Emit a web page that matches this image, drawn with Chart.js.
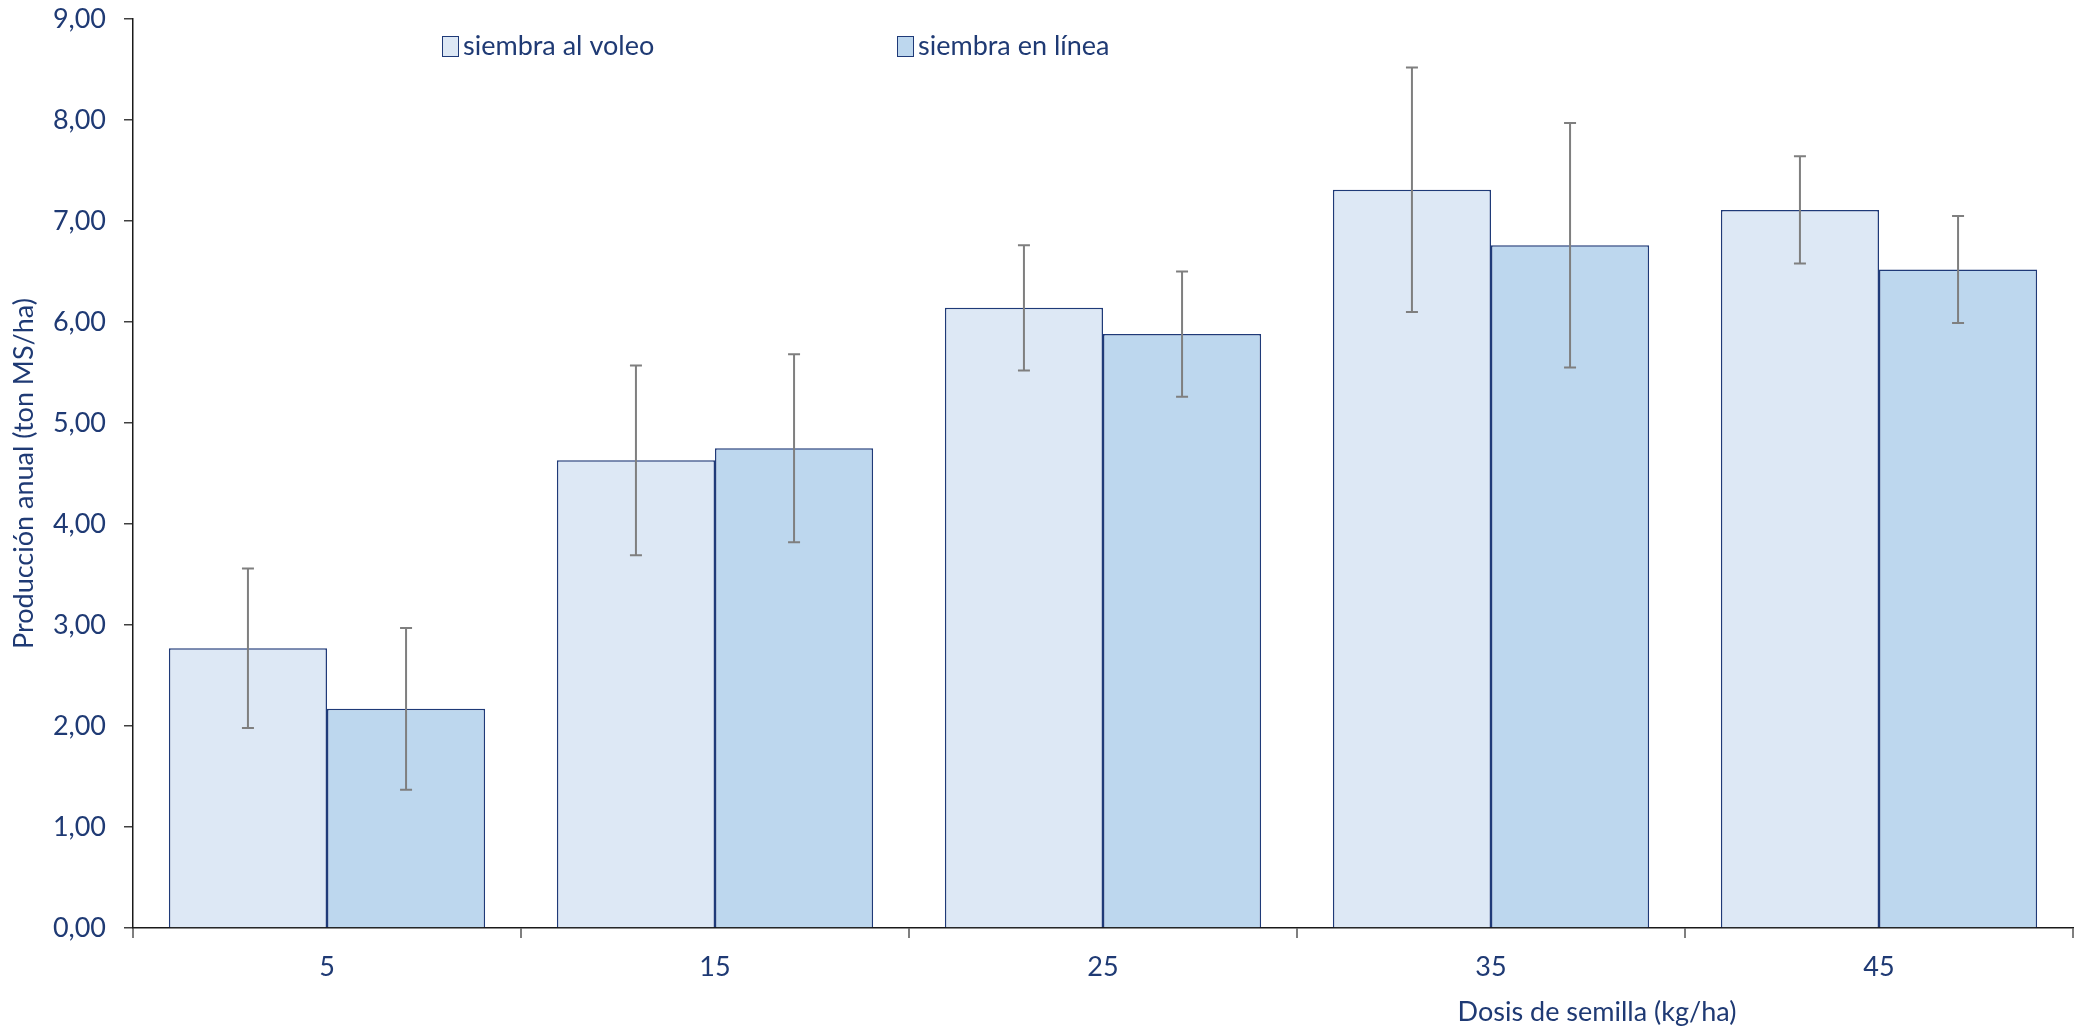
<!DOCTYPE html>
<html>
<head>
<meta charset="utf-8">
<script src="https://cdn.jsdelivr.net/npm/chart.js"></script>
<style>
  html, body { margin: 0; padding: 0; background: #fff; }
  #wrap { width: 2074px; height: 1028px; position: relative; }
</style>
</head>
<body>
<div id="wrap"><canvas id="chart" width="2074" height="1028"></canvas></div>
<script>
// data
const categories = ['5', '15', '25', '35', '45'];
const voleo = [2.77, 4.63, 6.14, 7.31, 7.11];
const linea = [2.17, 4.75, 5.88, 6.76, 6.52];
const errVoleo = [0.79, 0.94, 0.62, 1.21, 0.53];
const errLinea = [0.80, 0.93, 0.62, 1.21, 0.53];
const seriesNames = ['siembra al voleo', 'siembra en línea'];
const yTicks = [0, 1, 2, 3, 4, 5, 6, 7, 8, 9];

const FONT = 'Lato, "Open Sans", sans-serif';
const TEXT = '#1f3a74';
const NAVY = '#1f3a78';
const fills = ['#dde8f5', '#bdd7ee'];

// error bars drawn through the y scale
const errorBars = {
    id: 'errorBars',
    afterDatasetsDraw(chart) {
        const ctx = chart.ctx;
        const y = chart.scales.y;
        const errs = [errVoleo, errLinea];
        ctx.save();
        ctx.strokeStyle = '#7f7f7f';
        ctx.lineWidth = 2;
        chart.data.datasets.forEach((ds, i) => {
            const meta = chart.getDatasetMeta(i);
            meta.data.forEach((bar, j) => {
                const v = ds.data[j];
                const top = y.getPixelForValue(v + errs[i][j]);
                const bot = y.getPixelForValue(v - errs[i][j]);
                ctx.beginPath();
                ctx.moveTo(bar.x, top); ctx.lineTo(bar.x, bot);
                ctx.moveTo(bar.x - 6, top); ctx.lineTo(bar.x + 6, top);
                ctx.moveTo(bar.x - 6, bot); ctx.lineTo(bar.x + 6, bot);
                ctx.stroke();
            });
        });
        ctx.restore();
    }
};

// legend + x axis title placed like the original
const extras = {
    id: 'extras',
    afterDraw(chart) {
        const ctx = chart.ctx;
        ctx.save();
        ctx.font = '27px ' + FONT;
        ctx.textBaseline = 'middle';
        const spots = [442, 897];
        chart.data.datasets.forEach((ds, i) => {
            const x = spots[i];
            ctx.fillStyle = ds.backgroundColor;
            ctx.fillRect(x, 36, 16, 20);
            ctx.strokeStyle = NAVY;
            ctx.lineWidth = 1;
            ctx.strokeRect(x + 0.5, 36.5, 16, 20);
            ctx.fillStyle = TEXT;
            ctx.textAlign = 'left';
            ctx.fillText(ds.label, x + 21, 46);
        });
        ctx.textAlign = 'center';
        ctx.fillText('Dosis de semilla (kg/ha)', 1597, 1012);
        ctx.restore();
    }
};

new Chart(document.getElementById('chart'), {
    type: 'bar',
    data: {
        labels: categories,
        datasets: [
            { label: seriesNames[0], data: voleo, backgroundColor: fills[0], borderColor: NAVY, borderWidth: 1.5 },
            { label: seriesNames[1], data: linea, backgroundColor: fills[1], borderColor: NAVY, borderWidth: 1.5 }
        ]
    },
    options: {
        responsive: false,
        animation: false,
        events: [],
        layout: { padding: { top: 19, right: 1, left: 0, bottom: 0 } },
        datasets: { bar: { categoryPercentage: 0.815, barPercentage: 1.0 } },
        plugins: { legend: { display: false }, tooltip: { enabled: false } },
        scales: {
            x: {
                grid: { drawOnChartArea: false, color: '#7f7f7f', lineWidth: 2, tickLength: 10, offset: true },
                border: { color: '#1a1a1a', width: 1.5 },
                ticks: { color: TEXT, font: { family: FONT, size: 27 }, padding: 13 },
                afterFit(s) { s.height = 100; s.paddingLeft = 0; s.paddingRight = 0; }
            },
            y: {
                min: 0,
                max: 9,
                afterBuildTicks(s) { s.ticks = yTicks.map(v => ({ value: v })); },
                grid: { drawOnChartArea: false, color: '#404040', lineWidth: 1.5, tickLength: 9 },
                border: { color: '#1a1a1a', width: 1.5 },
                ticks: {
                    color: TEXT,
                    font: { family: FONT, size: 27 },
                    padding: 18,
                    callback: v => v.toFixed(2).replace('.', ',')
                },
                title: {
                    display: true,
                    text: 'Producción anual (ton MS/ha)',
                    color: TEXT,
                    font: { family: FONT, size: 27 },
                    padding: { top: 8, bottom: 0 }
                },
                afterFit(s) { s.width = 133; s.paddingTop = 0; s.paddingBottom = 0; }
            }
        }
    },
    plugins: [errorBars, extras]
});
</script>
</body>
</html>
